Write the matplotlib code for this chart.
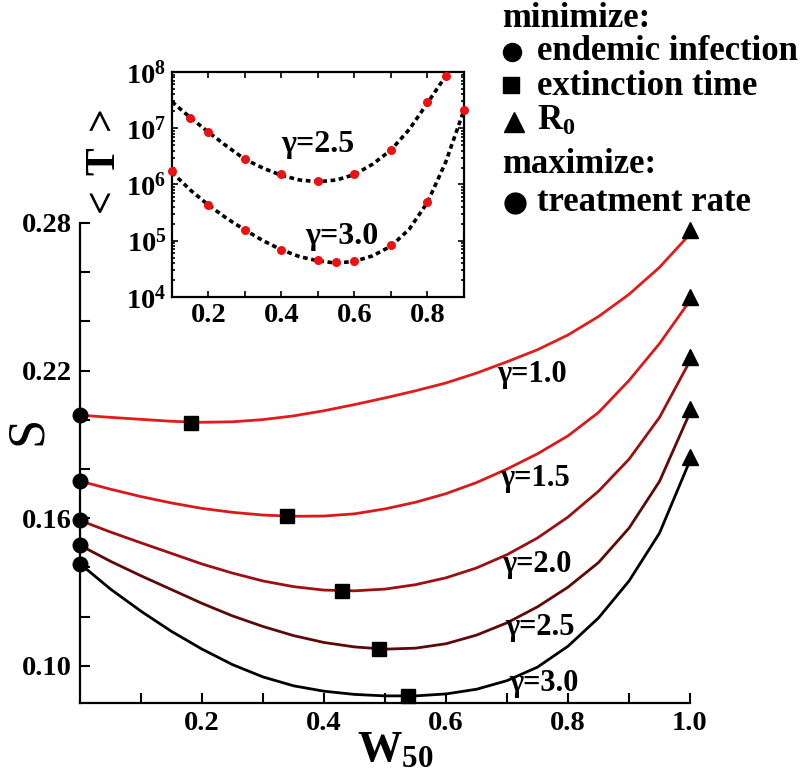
import numpy as np
import matplotlib
matplotlib.use("Agg")
import matplotlib.pyplot as plt
from matplotlib.ticker import FixedLocator, FuncFormatter, LogLocator, NullFormatter
from matplotlib.lines import Line2D

plt.rcParams["font.family"] = ["Liberation Serif", "DejaVu Serif"]
plt.rcParams["font.weight"] = "bold"
plt.rcParams["mathtext.fontset"] = "custom"
plt.rcParams["mathtext.rm"] = "Liberation Serif"
plt.rcParams["mathtext.bf"] = "Liberation Serif:bold"
plt.rcParams["mathtext.it"] = "Liberation Serif:italic"

# main panel: S versus W50 for each gamma
gammas = ["1.0", "1.5", "2.0", "2.5", "3.0"]
w50 = [0.00, 0.05, 0.10, 0.15, 0.20, 0.25, 0.30, 0.35, 0.40, 0.45, 0.50,
       0.55, 0.60, 0.65, 0.70, 0.75, 0.80, 0.85, 0.90, 0.95, 1.00]
s_g10 = [0.2019, 0.2010, 0.2002, 0.1994, 0.1990, 0.1992, 0.2001, 0.2016, 0.2037, 0.2062, 0.2089,
         0.2118, 0.2150, 0.2190, 0.2236, 0.2285, 0.2345, 0.2420, 0.2510, 0.2620, 0.2755]
s_g15 = [0.1751, 0.1718, 0.1688, 0.1662, 0.1640, 0.1624, 0.1613, 0.1608, 0.1609, 0.1618, 0.1638,
         0.1665, 0.1700, 0.1745, 0.1800, 0.1862, 0.1935, 0.2030, 0.2160, 0.2310, 0.2485]
s_g20 = [0.1591, 0.1544, 0.1500, 0.1457, 0.1414, 0.1377, 0.1345, 0.1322, 0.1308, 0.1305, 0.1312,
         0.1330, 0.1358, 0.1398, 0.1452, 0.1520, 0.1605, 0.1710, 0.1840, 0.2010, 0.2240]
s_g25 = [0.1490, 0.1425, 0.1366, 0.1310, 0.1254, 0.1203, 0.1160, 0.1123, 0.1095, 0.1077, 0.1068,
         0.1072, 0.1090, 0.1125, 0.1175, 0.1240, 0.1320, 0.1420, 0.1560, 0.1750, 0.2030]
s_g30 = [0.1415, 0.1312, 0.1222, 0.1140, 0.1068, 0.1005, 0.0955, 0.0919, 0.0897, 0.0884, 0.0878,
         0.0878, 0.0886, 0.0905, 0.0940, 0.0995, 0.1080, 0.1195, 0.1345, 0.1540, 0.1835]

# optimum (minimum extinction time) markers
w_square = [0.182, 0.339, 0.429, 0.490, 0.538]
s_square = [0.1989, 0.1608, 0.1305, 0.1067, 0.0878]

curve_colors = ["#e21b1b", "#d81a1a", "#9c1010", "#5e0808", "#000000"]
label_x = [0.741, 0.746, 0.749, 0.754, 0.761]
label_y = [0.2185, 0.1762, 0.1412, 0.1155, 0.0929]

# inset: mean extinction time
ins_x25 = [0.15, 0.2, 0.3, 0.4, 0.5, 0.6, 0.7, 0.8, 0.85]
ins_t25 = [1.54e7, 8.6e6, 2.84e6, 1.52e6, 1.17e6, 1.54e6, 4.06e6, 2.9e7, 8.5e7]
ins_x30 = [0.1, 0.2, 0.3, 0.4, 0.5, 0.55, 0.6, 0.7, 0.8, 0.9]
ins_t30 = [1.74e6, 4.37e5, 1.57e5, 6.9e4, 4.5e4, 4.2e4, 4.4e4, 8.3e4, 4.9e5, 2.1e7]
fit_x25 = [0.10, 0.15, 0.20, 0.25, 0.30, 0.35, 0.40, 0.45, 0.50, 0.55, 0.60, 0.65, 0.70, 0.75, 0.80, 0.85, 0.87]
fit_t25 = [2.95e7, 1.55e7, 8.5e6, 4.8e6, 2.8e6, 1.95e6, 1.45e6, 1.2e6, 1.12e6, 1.2e6, 1.5e6, 2.3e6, 4.1e6, 9.5e6, 2.8e7, 8.5e7, 1.4e8]
fit_x30 = [0.10, 0.15, 0.20, 0.25, 0.30, 0.35, 0.40, 0.45, 0.50, 0.55, 0.60, 0.65, 0.70, 0.75, 0.80, 0.85, 0.90]
fit_t30 = [1.65e6, 8.0e5, 4.3e5, 2.5e5, 1.55e5, 1.0e5, 6.9e4, 5.2e4, 4.4e4, 4.0e4, 4.3e4, 5.4e4, 8.0e4, 1.6e5, 4.8e5, 2.5e6, 2.1e7]

curves = [s_g10, s_g15, s_g20, s_g25, s_g30]

fig = plt.figure(figsize=(8.1, 7.74), dpi=100)
ax = fig.add_axes([0.0988, 0.0917, 0.7531, 0.6202])

for s, c, g, lx, ly in zip(curves, curve_colors, gammas, label_x, label_y):
    ax.plot(w50, s, color=c, lw=2.0, solid_joinstyle="round", zorder=2)
    ax.plot(w50[0], s[0], "o", color="black", ms=10.5, clip_on=False, zorder=4)
    ax.plot(w50[-1], s[-1] + 0.0015, "^", color="black", ms=12, clip_on=False, zorder=4)
    ax.text(lx, ly, f"γ={g}", fontsize=22, fontweight="bold", ha="center", va="center")
ax.plot(w_square, s_square, "s", color="black", ms=10.5, ls="none", clip_on=False, zorder=4)

ax.set_xlim(0, 1.0)
ax.set_ylim(0.0849, 0.28)
for side in ["top", "right"]:
    ax.spines[side].set_visible(False)
for side in ["left", "bottom"]:
    ax.spines[side].set_linewidth(1.6)
ax.xaxis.set_major_locator(FixedLocator([0.2, 0.4, 0.6, 0.8, 1.0]))
ax.xaxis.set_minor_locator(FixedLocator([0.1, 0.3, 0.5, 0.7, 0.9]))
ax.yaxis.set_major_locator(FixedLocator([0.10, 0.16, 0.22, 0.28]))
ax.yaxis.set_minor_locator(FixedLocator([0.12, 0.14, 0.18, 0.20, 0.24, 0.26]))
ax.xaxis.set_major_formatter(FuncFormatter(lambda v, p: f"{v:.1f}"))
ax.yaxis.set_major_formatter(FuncFormatter(lambda v, p: f"{v:.2f}"))
ax.tick_params(which="both", direction="in", length=7, width=1.5, labelsize=20.5, pad=6)

fig.text(0.034, 0.444, "S", fontsize=38, fontweight="normal", rotation=90, ha="center", va="center")
fig.text(0.4407, 0.017, r"$\mathbf{W_{50}}$", fontsize=32, ha="left", va="baseline")

# inset
axin = fig.add_axes([0.2123, 0.6163, 0.3605, 0.2907])
axin.set_yscale("log")
axin.plot(fit_x25, fit_t25, color="black", lw=2.6, dashes=(1.3, 1.0), zorder=2)
axin.plot(fit_x30, fit_t30, color="black", lw=2.6, dashes=(1.3, 1.0), zorder=2)
axin.plot(ins_x25, ins_t25, "o", color="#ee1111", ms=6.5, mec="none", clip_on=False, zorder=3)
axin.plot(ins_x30, ins_t30, "o", color="#ee1111", ms=6.5, mec="none", clip_on=False, zorder=3)
axin.set_xlim(0.1, 0.9)
axin.set_ylim(1e4, 1e8)
axin.xaxis.set_major_locator(FixedLocator([0.2, 0.4, 0.6, 0.8]))
axin.xaxis.set_minor_locator(FixedLocator([0.3, 0.5, 0.7]))
axin.xaxis.set_major_formatter(FuncFormatter(lambda v, p: f"{v:.1f}"))
axin.yaxis.set_major_locator(LogLocator(base=10, numticks=10))
axin.yaxis.set_minor_locator(LogLocator(base=10, subs=np.arange(2, 10), numticks=20))
axin.yaxis.set_minor_formatter(NullFormatter())
axin.yaxis.set_major_formatter(FuncFormatter(lambda v, p: r"$\mathbf{10^{%d}}$" % round(np.log10(v))))
axin.tick_params(which="both", direction="in", top=True, right=True, width=1.2, labelsize=20.5, pad=4)
axin.tick_params(which="major", length=4)
axin.tick_params(which="minor", axis="x", length=4)
axin.tick_params(which="minor", axis="y", length=2.5)
for sp in axin.spines.values():
    sp.set_linewidth(1.6)
axin.text(0.50, 5.2e6, "γ=2.5", fontsize=23, fontweight="bold", ha="center", va="center")
axin.text(0.566, 1.2e5, "γ=3.0", fontsize=23, fontweight="bold", ha="center", va="center")
fig.text(0.1296, 0.7868, r"$<\;\mathbf{T}\;>$", fontsize=30, rotation=90, ha="center", va="center")

# legend block on the right
fs = 25
fig.text(502 / 810, 1 - 27 / 774, "minimize:", fontsize=fs, fontweight="bold", va="baseline")
fig.text(537 / 810, 1 - 60 / 774, "endemic infection", fontsize=fs, fontweight="bold", va="baseline")
fig.text(537 / 810, 1 - 95 / 774, "extinction time", fontsize=fs, fontweight="bold", va="baseline")
fig.text(537 / 810, 1 - 130 / 774, r"$\mathbf{R_{0}}$", fontsize=fs, va="baseline")
fig.text(502 / 810, 1 - 173 / 774, "maximize:", fontsize=fs, fontweight="bold", va="baseline")
fig.text(537 / 810, 1 - 211 / 774, "treatment rate", fontsize=fs, fontweight="bold", va="baseline")
leg_marks = [("o", 512, 52, 13), ("s", 511, 85, 12), ("^", 514, 122, 15), ("o", 515, 203, 15)]
for m, px, py, size in leg_marks:
    fig.add_artist(Line2D([px / 810], [1 - py / 774], marker=m, color="black", ms=size,
                          ls="none", transform=fig.transFigure))

fig.savefig("out.png", dpi=100)
